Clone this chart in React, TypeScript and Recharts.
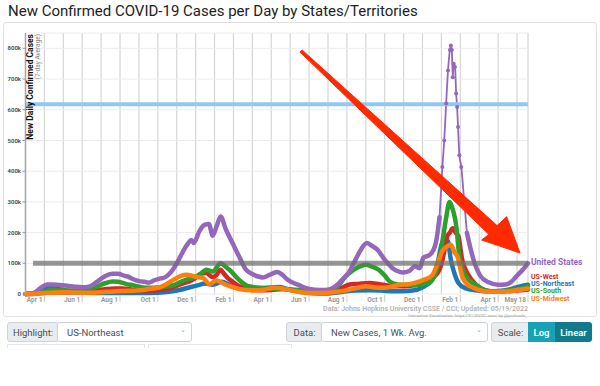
import React from 'react'
import { LineChart, Line, XAxis, YAxis, CartesianGrid, ReferenceLine } from 'recharts'

// x = months since Mar 1 2020, y = new cases per day (thousands, 7-day avg)
const unitedStates: [number, number][] = [
  [0, 0], [0.4, 2], [0.8, 20], [1.15, 31], [1.4, 31], [1.8, 29], [2.2, 27], [2.6, 24], [3.0, 22], [3.4, 25],
  [3.8, 40], [4.2, 58], [4.6, 66], [4.9, 66], [5.2, 60], [5.4, 57], [5.7, 48], [6.0, 42], [6.3, 40], [6.5, 37],
  [6.8, 44], [7.1, 50], [7.4, 55], [7.7, 72], [8.0, 100], [8.3, 135], [8.6, 165], [8.77, 176], [8.9, 166], [9.2, 205],
  [9.47, 225], [9.7, 228], [9.9, 190], [10.1, 219], [10.32, 252], [10.6, 210], [10.95, 166], [11.3, 122], [11.65, 80],
  [12.0, 65], [12.3, 57], [12.55, 54], [12.9, 62], [13.3, 72], [13.6, 62], [13.85, 47], [14.1, 38], [14.5, 28],
  [14.9, 18], [15.3, 14], [15.8, 13], [16.2, 18], [16.5, 30], [16.8, 50], [17.1, 70], [17.4, 105], [17.7, 140],
  [18.05, 166], [18.3, 158], [18.6, 145], [19.0, 112], [19.4, 85], [19.7, 74], [19.95, 70], [20.3, 75], [20.6, 90],
  [20.85, 84], [21.05, 118], [21.4, 128], [21.7, 165], [21.9, 250], [22.05, 414], [22.15, 500], [22.25, 620],
  [22.35, 728], [22.45, 795], [22.5, 809], [22.55, 795], [22.6, 706], [22.65, 750], [22.72, 739], [22.78, 653],
  [22.83, 609], [22.88, 544], [22.95, 452], [23.05, 414], [23.2, 306], [23.35, 199], [23.7, 111], [24.05, 60],
  [24.5, 38], [25.0, 30], [25.4, 31], [25.7, 40], [25.96, 57], [26.3, 79], [26.58, 100],
]
const usWest: [number, number][] = [
  [0, 0], [0.5, 1], [1.0, 4], [1.5, 5], [2.0, 5], [2.6, 6], [3.2, 8], [3.8, 12], [4.3, 16], [4.7, 18], [5.1, 18],
  [5.6, 15], [6.1, 12], [6.6, 11], [7.0, 13], [7.5, 17], [7.9, 24], [8.3, 34], [8.7, 42], [9.0, 52], [9.2, 63],
  [9.56, 68], [9.9, 55], [10.1, 62], [10.32, 79], [10.5, 66], [10.7, 52], [11.0, 38], [11.3, 25], [11.85, 14],
  [12.5, 12], [13.0, 13], [13.6, 16], [14.1, 13], [14.6, 9], [15.3, 7], [15.9, 8], [16.4, 13], [16.8, 22],
  [17.1, 30], [17.6, 33], [18.2, 36], [18.7, 32], [19.2, 27], [19.8, 25], [20.3, 26], [20.6, 28], [21.1, 36],
  [21.5, 50], [21.9, 79], [22.17, 144], [22.3, 187], [22.45, 200], [22.6, 214], [22.75, 200], [22.9, 187],
  [23.1, 111], [23.35, 70], [23.6, 46], [24.05, 20], [24.6, 9], [25.2, 8], [25.9, 11], [26.58, 15],
]
const usNortheast: [number, number][] = [
  [0, 0], [0.5, 3], [0.9, 12], [1.3, 20], [1.7, 17], [2.2, 11], [2.7, 6], [3.2, 4], [4.0, 3], [5.0, 3], [6.0, 3],
  [7.0, 4], [7.6, 7], [8.2, 14], [8.7, 22], [9.1, 28], [9.5, 34], [9.9, 30], [10.4, 40], [10.8, 30], [11.2, 24],
  [11.7, 20], [12.3, 19], [13.0, 21], [13.4, 23], [13.8, 17], [14.3, 10], [14.8, 5], [15.5, 2], [16.0, 2],
  [16.5, 5], [17.0, 9], [17.5, 11], [18.2, 12], [18.8, 11], [19.5, 9], [20.2, 10], [20.7, 14], [21.1, 25],
  [21.5, 45], [21.8, 100], [22.0, 160], [22.2, 182], [22.35, 170], [22.5, 111], [22.7, 65], [22.9, 36],
  [23.3, 18], [23.8, 12], [24.4, 9], [25.0, 10], [25.6, 15], [26.1, 24], [26.58, 30],
]
const usSouth: [number, number][] = [
  [0, 0], [0.5, 2], [1.0, 8], [1.4, 13], [2.0, 12], [2.6, 11], [3.2, 14], [3.7, 22], [4.2, 35], [4.6, 41],
  [4.9, 40], [5.3, 33], [5.7, 28], [6.2, 21], [6.6, 20], [7.0, 21], [7.5, 25], [7.9, 30], [8.3, 42], [8.7, 50],
  [9.0, 55], [9.3, 68], [9.56, 79], [9.9, 73], [10.32, 100], [10.6, 88], [10.8, 78], [11.3, 46], [11.75, 26],
  [12.4, 20], [13.2, 17], [14.0, 15], [14.5, 13], [15.2, 9], [15.9, 8], [16.3, 15], [16.6, 30], [16.9, 55],
  [17.2, 72], [17.6, 87], [18.0, 95], [18.3, 90], [18.7, 78], [19.0, 60], [19.26, 41], [19.6, 32], [19.9, 30],
  [20.6, 30], [21.0, 32], [21.4, 38], [21.7, 70], [21.9, 111], [22.1, 190], [22.26, 252], [22.43, 300],
  [22.55, 285], [22.79, 219], [22.95, 122], [23.3, 57], [23.6, 38], [23.85, 28], [24.3, 12], [24.7, 8],
  [25.3, 10], [25.96, 15], [26.58, 25],
]
const usMidwest: [number, number][] = [
  [0, 0], [0.5, 1], [1.0, 3], [1.5, 5], [2.0, 6], [2.6, 5], [3.2, 4], [3.8, 5], [4.3, 7], [4.8, 9], [5.3, 10],
  [5.8, 11], [6.3, 14], [6.8, 19], [7.1, 22], [7.4, 30], [7.8, 45], [8.2, 58], [8.5, 63], [8.86, 59], [9.1, 55],
  [9.4, 52], [9.74, 32], [10.1, 44], [10.3, 40], [10.6, 30], [11.0, 22], [11.3, 16], [12.0, 12], [12.6, 14],
  [13.2, 20], [13.6, 18], [14.1, 11], [14.6, 6], [15.2, 3], [16.0, 4], [16.6, 8], [17.2, 15], [17.6, 21],
  [18.0, 25], [18.4, 22], [18.8, 20], [19.2, 22], [19.8, 30], [20.3, 32], [20.6, 36], [21.1, 47], [21.5, 60],
  [21.8, 100], [22.05, 140], [22.3, 155], [22.5, 160], [22.7, 135], [22.85, 122], [23.1, 57], [23.4, 30],
  [23.7, 20], [24.2, 10], [24.7, 7], [25.3, 8], [26.0, 13], [26.58, 18],
]

const monthTicks = [1, 2, 3, 4, 5, 6, 7, 8, 9, 10, 11, 12, 13, 14, 15, 16, 17, 18, 19, 20, 21, 22, 23, 24, 25, 26, 26.58]
const tickLabels: Record<string, string> = {
  1: 'Apr 1', 3: 'Jun 1', 5: 'Aug 1', 7: 'Oct 1', 9: 'Dec 1', 11: 'Feb 1', 13: 'Apr 1',
  15: 'Jun 1', 17: 'Aug 1', 19: 'Oct 1', 21: 'Dec 1', 23: 'Feb 1', 25: 'Apr 1', 26.58: 'May 18',
}
const yTicks = [0, 100, 200, 300, 400, 500, 600, 700, 800]

const toRows = (pts: [number, number][]) => pts.map(([t, v]) => ({ t, v }))

const colors = {
  us: '#9467bd',
  west: '#d62728',
  northeast: '#1f77b4',
  south: '#2ca02c',
  midwest: '#ff7f0e',
}

const font = 'Roboto, "Open Sans", sans-serif'

const XTick = ({ x, y, payload }: any) => {
  const label = tickLabels[String(payload.value)]
  if (!label) return <g />
  return (
    <g>
      <line x1={x} x2={x} y1={y + 1} y2={y + 8} stroke="#c8c8c8" />
      <text x={x - 2} y={y + 7.5} textAnchor="end" fontSize={6.5} fontWeight={700} fill="#9a9a9a" fontFamily={font}>
        {label}
      </text>
    </g>
  )
}

const usRows = toRows(unitedStates)
const usBefore = usRows.filter((d) => d.t <= 21.9)
const usSpike = usRows.filter((d) => d.t >= 21.9 && d.t <= 23.35)
const usAfter = usRows.filter((d) => d.t >= 23.35)

const lineProps = {
  type: 'monotone' as const,
  dataKey: 'v',
  strokeWidth: 4.5,
  dot: false,
  isAnimationActive: false,
  strokeLinejoin: 'round' as const,
  strokeLinecap: 'round' as const,
}

const Addon = ({ left, width, children }: any) => (
  <div style={{ position: 'absolute', left, top: 322, width, height: 20, boxSizing: 'border-box', background: '#e9ecef',
    border: '1px solid #ced4da', borderRadius: 3, fontSize: 9.5, color: '#495057', display: 'flex', alignItems: 'center',
    justifyContent: 'center', fontFamily: font }}>{children}</div>
)
const Select = ({ left, width, children }: any) => (
  <div style={{ position: 'absolute', left, top: 322, width, height: 20, boxSizing: 'border-box', background: '#fff',
    border: '1px solid #ced4da', borderRadius: 3, fontSize: 9.5, color: '#495057', display: 'flex', alignItems: 'center',
    paddingLeft: 9, fontFamily: font }}>
    {children}
    <span style={{ position: 'absolute', right: 5, top: 3, fontSize: 7, color: '#aaa' }}>⌄</span>
  </div>
)

export default function App() {
  return (
    <div style={{ position: 'absolute', left: 0, top: 0, width: 600, height: 386, background: '#fff', overflow: 'hidden' }}>
      <div style={{ position: 'absolute', left: 8, top: 2, fontSize: 15, fontFamily: font, color: '#222', whiteSpace: 'nowrap' }}>
        New Confirmed COVID-19 Cases per Day by States/Territories
      </div>
      <div style={{ position: 'absolute', left: 3, top: 22, width: 594, height: 295, boxSizing: 'border-box',
        border: '1px solid #e2e2e2', borderRadius: 3 }} />
      <div style={{ position: 'absolute', left: 0, top: 0 }}>
        <LineChart width={600} height={320} margin={{ top: 33, right: 72, bottom: 14, left: 0 }}>
          <CartesianGrid horizontal={false} stroke="#d6d6d6" strokeWidth={1.2} />
          <CartesianGrid vertical={false} stroke="#f0eaee" />
          <XAxis
            type="number"
            dataKey="t"
            domain={[0, 26.58]}
            ticks={monthTicks}
            interval={0}
            tick={<XTick />}
            tickLine={false}
            axisLine={false}
            tickSize={0}
            tickMargin={0}
            height={12}
            allowDuplicatedCategory={false}
          />
          <YAxis
            domain={[0, 850]}
            ticks={yTicks}
            interval={0}
            width={25.5}
            tickFormatter={(v: number) => (v === 0 ? '0' : `${v}k`)}
            tick={{ fontSize: 6, fill: '#444', fontWeight: 600, fontFamily: font }}
            tickSize={3}
            tickMargin={1.5}
            tickLine={{ stroke: '#999' }}
            axisLine={{ stroke: '#a8a8a8', strokeWidth: 1.5 }}
          />
          <Line {...lineProps} data={toRows(usNortheast)} stroke={colors.northeast} />
          <Line {...lineProps} data={toRows(usWest)} stroke={colors.west} />
          <Line {...lineProps} data={toRows(usSouth)} stroke={colors.south} />
          <Line {...lineProps} data={usBefore} stroke={colors.us} />
          <Line {...lineProps} data={usAfter} stroke={colors.us} />
          <Line
            {...lineProps}
            data={usSpike}
            stroke={colors.us}
            strokeWidth={1.8}
            dot={{ r: 2, fill: colors.us, stroke: 'none' }}
          />
          <Line {...lineProps} data={toRows(usMidwest)} stroke={colors.midwest} />
          <ReferenceLine
            segment={[{ x: 0.4, y: 100 }, { x: 26.58, y: 100 }]}
            stroke="#6e6e6e"
            strokeOpacity={0.72}
            strokeWidth={5}
            ifOverflow="visible"
          />
          <ReferenceLine y={618} stroke="#8ec8f4" strokeWidth={4} />
        </LineChart>
      </div>
      <svg width={600} height={386} style={{ position: 'absolute', left: 0, top: 0, pointerEvents: 'none' }}>
        <text transform="translate(33,34) rotate(-90)" textAnchor="end" fontSize={8.5} fontWeight={700} fill="#111" fontFamily={font}>
          New Daily Confirmed Cases
        </text>
        <text transform="translate(40,34) rotate(-90)" textAnchor="end" fontSize={6.5} fill="#888" fontFamily={font}>
          (7-day Average)
        </text>
        <g fontFamily={font} fontWeight={700} fontSize={7}>
          <text x={531} y={265} fill={colors.us} fontSize={8.5}>United States</text>
          <text x={531} y={279} fill={colors.west}>US-West</text>
          <text x={531} y={286.2} fill={colors.northeast}>US-Northeast</text>
          <text x={531} y={293.4} fill={colors.south}>US-South</text>
          <text x={531} y={300.6} fill={colors.midwest}>US-Midwest</text>
        </g>
        <text x={528} y={311} textAnchor="end" fontSize={7} fontWeight={600} fill="#b3b3b3" fontFamily={font}>
          Data: Johns Hopkins University CSSE / CCI; Updated: 05/19/2022
        </text>
        <text x={527} y={316.5} textAnchor="end" fontSize={4.2} fill="#a0a0a0" fontFamily={font}>
          Interactive Visualization: https://91-DIVOC.com/ by @profwade_
        </text>
        <polygon
          points="302,49.9 497.1,225.6 506.7,216.7 520,253 481.7,240 488.9,234.4 300,52.1"
          fill="#ff2a00"
          stroke="#ff2a00"
          strokeWidth={1}
          strokeLinejoin="round"
        />
      </svg>
      <Addon left={7} width={52}>Highlight:</Addon>
      <Select left={57} width={135}>US-Northeast</Select>
      <Addon left={286} width={37}>Data:</Addon>
      <Select left={321} width={167}>New Cases, 1 Wk. Avg.</Select>
      <Addon left={491} width={39}>Scale:</Addon>
      <div style={{ position: 'absolute', left: 528, top: 322, width: 27, height: 20, background: '#17a2b8', color: '#fff',
        fontSize: 9.5, fontWeight: 600, display: 'flex', alignItems: 'center', justifyContent: 'center', fontFamily: font }}>Log</div>
      <div style={{ position: 'absolute', left: 555, top: 322, width: 37, height: 20, background: '#117a8b', color: '#fff',
        fontSize: 9.5, fontWeight: 600, display: 'flex', alignItems: 'center', justifyContent: 'center', fontFamily: font,
        borderRadius: '0 3px 3px 0' }}>Linear</div>
      <div style={{ position: 'absolute', left: 7, top: 344, width: 136, height: 3, borderTop: '1px solid #e3e6ea',
        borderLeft: '1px solid #e3e6ea', borderRight: '1px solid #e3e6ea' }} />
      <div style={{ position: 'absolute', left: 148, top: 344, width: 142, height: 3, borderTop: '1px solid #e3e6ea',
        borderLeft: '1px solid #e3e6ea', borderRight: '1px solid #e3e6ea' }} />
    </div>
  )
}
